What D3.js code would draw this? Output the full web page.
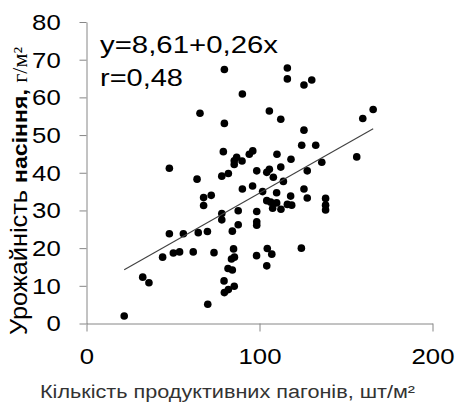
<!DOCTYPE html>
<html>
<head>
<meta charset="utf-8">
<script src="https://cdn.jsdelivr.net/npm/d3@7"></script>
<style>
  html, body { margin: 0; padding: 0; background: #fff; }
  #chart { width: 456px; height: 402px; }
</style>
</head>
<body>
<div id="chart"></div>
<script>
// shoots per m2 (x) and seed yield g/m2 (y)
const shoots = [21.8, 32.5, 36.1, 44.0, 47.9, 47.9, 50.2, 53.8, 56.0, 61.7,
  63.9, 64.6, 65.6, 67.7, 67.7, 69.9, 70.1, 72.1, 73.7, 78.2,
  82.0, 78.2, 78.2, 79.1, 79.7, 79.7, 79.5, 79.7, 82.0, 81.8,
  84.3, 84.3, 85.0, 85.5, 83.8, 85.4, 85.4, 86.8, 89.9, 85.4,
  87.7, 87.7, 90.1, 90.1, 94.1, 96.1, 96.0, 98.4, 98.4, 98.4,
  98.4, 98.3, 101.8, 104.2, 105.7, 108.0, 104.2, 106.5, 109.9, 107.6,
  112.4, 116.1, 118.0, 118.6, 104.5, 107.1, 104.2, 105.7, 112.3, 110.1,
  118.2, 112.3, 113.8, 109.9, 116.1, 116.1, 125.7, 130.2, 125.7, 124.4,
  132.5, 127.6, 136.0, 125.7, 127.6, 138.2, 138.2, 138.2, 124.2, 156.2,
  159.7, 165.7];
const yieldVals = [2.0, 12.3, 10.8, 17.6, 41.2, 23.8, 18.7, 19.0, 23.8, 19.0,
  38.3, 24.1, 55.8, 33.4, 31.3, 24.4, 5.1, 34.0, 18.8, 39.1,
  39.8, 29.2, 27.5, 45.6, 67.4, 53.1, 11.3, 8.2, 9.0, 14.6,
  14.2, 24.5, 19.8, 17.6, 17.1, 9.9, 43.2, 44.1, 43.1, 42.2,
  29.9, 26.2, 60.9, 35.7, 44.9, 45.8, 36.5, 40.5, 29.7, 27.0,
  26.1, 18.0, 35.0, 40.1, 40.9, 38.8, 32.6, 32.2, 32.0, 30.6,
  30.3, 31.6, 33.8, 31.4, 19.9, 18.4, 15.3, 56.4, 54.2, 44.9,
  43.6, 41.5, 37.7, 34.7, 67.8, 64.9, 63.3, 64.6, 51.3, 47.3,
  47.3, 40.5, 42.8, 35.7, 33.3, 33.2, 31.4, 30.1, 20.0, 44.2,
  54.4, 56.8];

const xTicks = [0, 100, 200];
const yTicks = [0, 10, 20, 30, 40, 50, 60, 70, 80];

// trend line y = a + b*x
const intercept = 8.61;
const slope = 0.26;
const eqText = "y=8,61+0,26x";
const rText = "r=0,48";

const xTitle = "Кількість продуктивних пагонів, шт/м²";

function drawScatter(divId, width = 456, height = 402) {
    d3.select(`#${divId}`).html("");

    const svg = d3.select(`#${divId}`)
        .append("svg")
        .attr("width", width)
        .attr("height", height)
        .style("font-family", "'Liberation Sans', Arial, sans-serif");

    // plot box in pixels
    const left = 86.5, right = 432.5, top = 22, bottom = 323.5;

    const x = d3.scaleLinear().domain([0, 200]).range([left, right]);
    const y = d3.scaleLinear().domain([0, 80]).range([bottom, top]);

    const axisColor = "#868686";

    // y axis
    const gy = svg.append("g")
        .attr("transform", `translate(${left},0)`)
        .call(d3.axisLeft(y).tickValues(yTicks).tickSize(7).tickPadding(16).tickSizeOuter(0));
    gy.select(".domain").attr("stroke", axisColor);
    gy.selectAll(".tick line").attr("stroke", axisColor);
    gy.selectAll(".tick text")
        .attr("fill", "#000")
        .style("font-size", "23px")
        .attr("transform", "scale(1.12,1)");

    // x axis
    const gx = svg.append("g")
        .attr("transform", `translate(0,${bottom})`)
        .call(d3.axisBottom(x).tickValues(xTicks).tickSize(8).tickPadding(16).tickSizeOuter(0));
    gx.select(".domain").attr("stroke", axisColor);
    gx.selectAll(".tick line").attr("stroke", axisColor);
    gx.selectAll(".tick text")
        .attr("fill", "#000")
        .style("font-size", "23px")
        .attr("transform", "scale(1.12,1)");

    // points
    const pts = shoots.map((v, i) => [v, yieldVals[i]]);
    svg.append("g")
        .selectAll("circle")
        .data(pts)
        .enter()
        .append("circle")
        .attr("cx", d => x(d[0]))
        .attr("cy", d => y(d[1]))
        .attr("r", 3.8)
        .attr("fill", "#000");

    // trend line over the data range
    const xMin = d3.min(shoots), xMax = d3.max(shoots);
    svg.append("line")
        .attr("x1", x(xMin))
        .attr("y1", y(intercept + slope * xMin))
        .attr("x2", x(xMax))
        .attr("y2", y(intercept + slope * xMax))
        .attr("stroke", "#404040")
        .attr("stroke-width", 1.1);

    // equation
    svg.append("text")
        .attr("x", 100).attr("y", 53)
        .attr("textLength", 178).attr("lengthAdjust", "spacingAndGlyphs")
        .style("font-size", "23px")
        .text(eqText);
    svg.append("text")
        .attr("x", 100).attr("y", 86)
        .attr("textLength", 83).attr("lengthAdjust", "spacingAndGlyphs")
        .style("font-size", "23px")
        .text(rText);

    // x title
    svg.append("text")
        .attr("x", 40).attr("y", 398)
        .attr("textLength", 375).attr("lengthAdjust", "spacingAndGlyphs")
        .attr("fill", "#333")
        .style("font-size", "18px")
        .text(xTitle);

    // y title, mixed fonts like the original
    const yt = svg.append("text")
        .attr("transform", "translate(27,335) rotate(-90)")
        .attr("textLength", 288).attr("lengthAdjust", "spacingAndGlyphs");
    yt.append("tspan").style("font-size", "23px").text("Урожайність ");
    yt.append("tspan").style("font-size", "21px").style("font-weight", "bold").text("насіння, ");
    yt.append("tspan").style("font-size", "20px")
        .style("font-family", "'Liberation Serif', 'Times New Roman', serif")
        .text("г/м²");
}

drawScatter("chart");
</script>
</body>
</html>
